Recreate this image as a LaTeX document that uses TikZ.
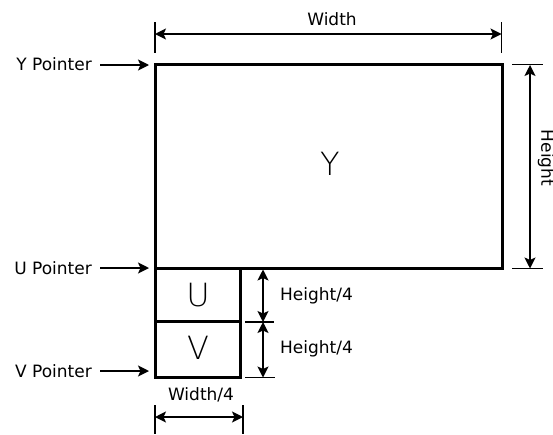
\documentclass[tikz,border=0pt]{standalone}
\usepackage{fontspec}
\setmainfont{DejaVu Sans}
\newfontfamily\thinfont{DejaVu Sans ExtraLight}
\usetikzlibrary{arrows.meta}
\tikzset{
  box/.style={draw, line width=3pt, inner sep=0pt, outer sep=0pt, anchor=north west},
  big/.style={font=\thinfont\fontsize{32}{36}\selectfont},
  lbl/.style={font=\fontsize{17}{20}\selectfont, inner sep=0pt},
  tick/.style={line width=1.5pt},
  dim/.style={line width=1.5pt, {Stealth[length=11pt,width=11pt,inset=2.5pt]}-{Stealth[length=11pt,width=11pt,inset=2.5pt]}},
  ptr/.style={line width=1.5pt, -{Stealth[length=11pt,width=11pt,inset=2.5pt]}}
}
\begin{document}
\begin{tikzpicture}[x=1pt,y=-1pt]
\useasboundingbox (0,0) rectangle (553,434);
% boxes
\node[box, minimum width=347.5pt, minimum height=204pt] (Y) at (155,64) {};
\node[box, minimum width=85pt, minimum height=53pt] (U) at (155,268) {};
\node[box, minimum width=85pt, minimum height=56pt] (V) at (155,321) {};
\node[big] (Yt) at (330,164) {Y};
\node[big] (Ut) at (198,295) {U};
\node[big] (Vt) at (198,348) {V};
% pointers
\node[lbl, anchor=east] (yp) at (92,64) {Y Pointer};
\node[lbl, anchor=east] (up) at (92,268) {U Pointer};
\node[lbl, anchor=east] (vp) at (92,371) {V Pointer};
\coordinate (ya) at (100,65);
\coordinate (yb) at (149,65);
\coordinate (ua) at (100,268);
\coordinate (ub) at (149,268);
\coordinate (va) at (100,371);
\coordinate (vb) at (149,371);
\draw[ptr] (ya) -- (yb);
\draw[ptr] (ua) -- (ub);
\draw[ptr] (va) -- (vb);
% width
\coordinate (w1) at (155,34);
\coordinate (w2) at (501.5,34);
\draw[tick] (155,22) -- (155,53);
\draw[tick] (501.5,22) -- (501.5,53);
\draw[dim] (w1) -- (w2);
\node[lbl] (wl) at (332,19) {Width};
% height
\coordinate (h1) at (530,65);
\coordinate (h2) at (530,268.5);
\draw[tick] (512,64.5) -- (543,64.5);
\draw[tick] (512,268.5) -- (543,268.5);
\draw[dim] (h1) -- (h2);
\node[lbl, rotate=-90] (hl) at (546,158) {Height};
% height/4
\coordinate (q1) at (263,269.5);
\coordinate (q2) at (263,322);
\coordinate (q3) at (263,377.5);
\draw[tick] (245,322) -- (274,322);
\draw[tick] (245,377.5) -- (275,377.5);
\draw[dim] (q1) -- (q2);
\draw[dim] (q2) -- (q3);
\node[lbl, anchor=west] (ql1) at (280,296) {Height/4};
\node[lbl, anchor=west] (ql2) at (280,349) {Height/4};
% width/4
\coordinate (f1) at (155,417);
\coordinate (f2) at (243,417);
\draw[tick] (155,405) -- (155,434);
\draw[tick] (243,405) -- (243,434);
\draw[dim] (f1) -- (f2);
\node[lbl] (fl) at (201,395) {Width/4};
\end{tikzpicture}
\end{document}
